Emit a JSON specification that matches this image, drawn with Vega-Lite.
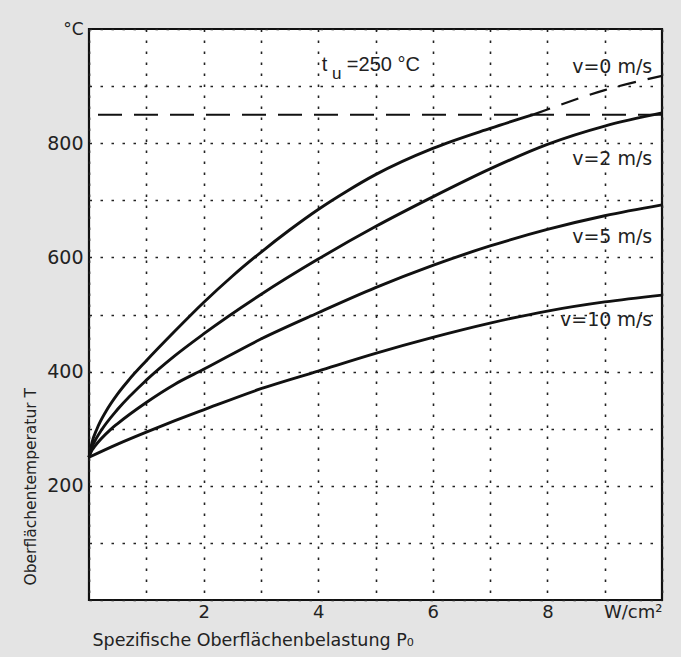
{
  "$schema": "https://vega.github.io/schema/vega-lite/v6.json",
  "width": 573,
  "height": 571,
  "autosize": {"type": "none"},
  "padding": {"left": 89, "top": 29, "right": 19, "bottom": 57},
  "background": "#e4e4e4",
  "config": {
    "view": {"fill": "white", "stroke": "#111", "strokeWidth": 2.2},
    "font": "DejaVu Sans"
  },
  "datasets": {
    "curves": [
      {"P": 0, "T": 250, "s": "v0"}, {"P": 0.05, "T": 275, "s": "v0"}, {"P": 0.14, "T": 300, "s": "v0"}, {"P": 0.3, "T": 331, "s": "v0"}, {"P": 0.5, "T": 361, "s": "v0"}, {"P": 0.7, "T": 386, "s": "v0"}, {"P": 1, "T": 419, "s": "v0"}, {"P": 1.5, "T": 471, "s": "v0"}, {"P": 2, "T": 521, "s": "v0"}, {"P": 2.5, "T": 567, "s": "v0"}, {"P": 3, "T": 609, "s": "v0"}, {"P": 3.5, "T": 648, "s": "v0"}, {"P": 4, "T": 684, "s": "v0"}, {"P": 4.5, "T": 716, "s": "v0"}, {"P": 5, "T": 745, "s": "v0"}, {"P": 6, "T": 791, "s": "v0"}, {"P": 7, "T": 826, "s": "v0"}, {"P": 7.75, "T": 850, "s": "v0"},
      {"P": 0, "T": 250, "s": "v2"}, {"P": 0.05, "T": 268, "s": "v2"}, {"P": 0.1, "T": 278, "s": "v2"}, {"P": 0.22, "T": 298, "s": "v2"}, {"P": 0.5, "T": 334, "s": "v2"}, {"P": 1, "T": 385, "s": "v2"}, {"P": 1.5, "T": 428, "s": "v2"}, {"P": 2, "T": 466, "s": "v2"}, {"P": 3, "T": 535, "s": "v2"}, {"P": 4, "T": 597, "s": "v2"}, {"P": 5, "T": 654, "s": "v2"}, {"P": 6, "T": 706, "s": "v2"}, {"P": 7, "T": 755, "s": "v2"}, {"P": 8, "T": 798, "s": "v2"}, {"P": 9, "T": 830, "s": "v2"}, {"P": 10, "T": 853, "s": "v2"},
      {"P": 0, "T": 250, "s": "v5"}, {"P": 0.05, "T": 262, "s": "v5"}, {"P": 0.1, "T": 269, "s": "v5"}, {"P": 0.37, "T": 298, "s": "v5"}, {"P": 0.5, "T": 309, "s": "v5"}, {"P": 1, "T": 346, "s": "v5"}, {"P": 1.5, "T": 378, "s": "v5"}, {"P": 2, "T": 404, "s": "v5"}, {"P": 3, "T": 457, "s": "v5"}, {"P": 4, "T": 503, "s": "v5"}, {"P": 5, "T": 547, "s": "v5"}, {"P": 6, "T": 586, "s": "v5"}, {"P": 7, "T": 620, "s": "v5"}, {"P": 8, "T": 649, "s": "v5"}, {"P": 9, "T": 673, "s": "v5"}, {"P": 10, "T": 692, "s": "v5"},
      {"P": 0, "T": 250, "s": "v10"}, {"P": 0.5, "T": 273, "s": "v10"}, {"P": 1, "T": 294, "s": "v10"}, {"P": 1.5, "T": 314, "s": "v10"}, {"P": 2, "T": 333, "s": "v10"}, {"P": 3, "T": 370, "s": "v10"}, {"P": 4, "T": 401, "s": "v10"}, {"P": 5, "T": 432, "s": "v10"}, {"P": 6, "T": 460, "s": "v10"}, {"P": 7, "T": 485, "s": "v10"}, {"P": 8, "T": 506, "s": "v10"}, {"P": 9, "T": 522, "s": "v10"}, {"P": 10, "T": 534, "s": "v10"}
    ],
    "extension": [
      {"P": 7.75, "T": 850}, {"P": 8, "T": 859}, {"P": 9, "T": 893}, {"P": 10, "T": 918}
    ],
    "limit": [{"T": 850}],
    "vlabels": [
      {"P": 9.83, "T": 933, "text": "v=0 m/s"},
      {"P": 9.83, "T": 772, "text": "v=2 m/s"},
      {"P": 9.83, "T": 636, "text": "v=5 m/s"},
      {"P": 9.83, "T": 490, "text": "v=10 m/s"}
    ],
    "tmain": [
      {"P": 4.06, "T": 937, "text": "t"},
      {"P": 4.5, "T": 937, "text": "=250 °C"}
    ],
    "tsub": [
      {"P": 4.24, "T": 922, "text": "u"}
    ]
  },
  "layer": [
    {
      "data": {"name": "curves"},
      "mark": {"type": "line", "color": "#111", "strokeWidth": 2.9, "interpolate": "monotone"},
      "encoding": {
        "x": {
          "field": "P", "type": "quantitative",
          "scale": {"domain": [0, 10], "nice": false, "zero": false},
          "axis": {
            "values": [0, 1, 2, 3, 4, 5, 6, 7, 8, 9, 10],
            "labelExpr": "datum.value == 10 ? 'W/cm²' : (datum.value % 2 == 0 && datum.value > 0 ? format(datum.value, 'd') : '')",
            "labelFlush": true,
            "labelOverlap": false,
            "labelPadding": 3,
            "labelFontSize": 18,
            "labelColor": "#222",
            "labelFont": "DejaVu Sans",
            "ticks": false,
            "domain": false,
            "grid": true,
            "gridColor": "#222",
            "gridDash": [2.5, 8.5],
            "gridWidth": 1.6,
            "gridOpacity": 1,
            "title": "Spezifische Oberflächenbelastung P₀",
            "titleFont": "DejaVu Sans",
            "titleFontSize": 17.5,
            "titleFontWeight": "normal",
            "titleColor": "#222",
            "titleAnchor": "start",
            "titleAlign": "left",
            "titleBaseline": "alphabetic",
            "titleX": 3,
            "titleY": 45
          }
        },
        "y": {
          "field": "T", "type": "quantitative",
          "scale": {"domain": [0, 1000], "nice": false},
          "axis": {
            "values": [0, 100, 200, 300, 400, 500, 600, 700, 800, 900, 1000],
            "labelExpr": "datum.value == 1000 ? '°C' : (datum.value % 200 == 0 && datum.value > 0 ? format(datum.value, 'd') : '')",
            "labelOverlap": false,
            "labelPadding": 6,
            "labelFontSize": {"condition": {"test": "datum.value == 1000", "value": 17}, "value": 19},
            "labelColor": "#222",
            "labelFont": "DejaVu Sans",
            "ticks": false,
            "domain": false,
            "grid": true,
            "gridColor": "#222",
            "gridDash": [2.5, 8.5],
            "gridWidth": 1.6,
            "gridOpacity": 1,
            "title": "Oberflächentemperatur T",
            "titleFont": "DejaVu Sans",
            "titleFontSize": 15.5,
            "titleFontWeight": "normal",
            "titleColor": "#222",
            "titleAngle": 270,
            "titleAlign": "left",
            "titleBaseline": "middle",
            "titleX": -59,
            "titleY": 556
          }
        },
        "detail": {"field": "s", "type": "nominal"}
      }
    },
    {
      "data": {"name": "extension"},
      "mark": {"type": "line", "color": "#111", "strokeWidth": 2.2, "strokeDash": [18, 12], "interpolate": "monotone"},
      "encoding": {
        "x": {"field": "P", "type": "quantitative"},
        "y": {"field": "T", "type": "quantitative"}
      }
    },
    {
      "data": {"name": "limit"},
      "mark": {"type": "rule", "color": "#111", "strokeWidth": 2, "strokeDash": [24, 12]},
      "encoding": {
        "y": {"field": "T", "type": "quantitative"}
      }
    },
    {
      "data": {"name": "vlabels"},
      "mark": {"type": "text", "align": "right", "baseline": "middle", "fontSize": 19, "font": "DejaVu Sans", "color": "#222"},
      "encoding": {
        "x": {"field": "P", "type": "quantitative"},
        "y": {"field": "T", "type": "quantitative"},
        "text": {"field": "text"}
      }
    },
    {
      "data": {"name": "tmain"},
      "mark": {"type": "text", "align": "left", "baseline": "middle", "fontSize": 20, "font": "Liberation Sans", "color": "#222"},
      "encoding": {
        "x": {"field": "P", "type": "quantitative"},
        "y": {"field": "T", "type": "quantitative"},
        "text": {"field": "text"}
      }
    },
    {
      "data": {"name": "tsub"},
      "mark": {"type": "text", "align": "left", "baseline": "middle", "fontSize": 17, "font": "Liberation Sans", "color": "#222"},
      "encoding": {
        "x": {"field": "P", "type": "quantitative"},
        "y": {"field": "T", "type": "quantitative"},
        "text": {"field": "text"}
      }
    }
  ]
}
